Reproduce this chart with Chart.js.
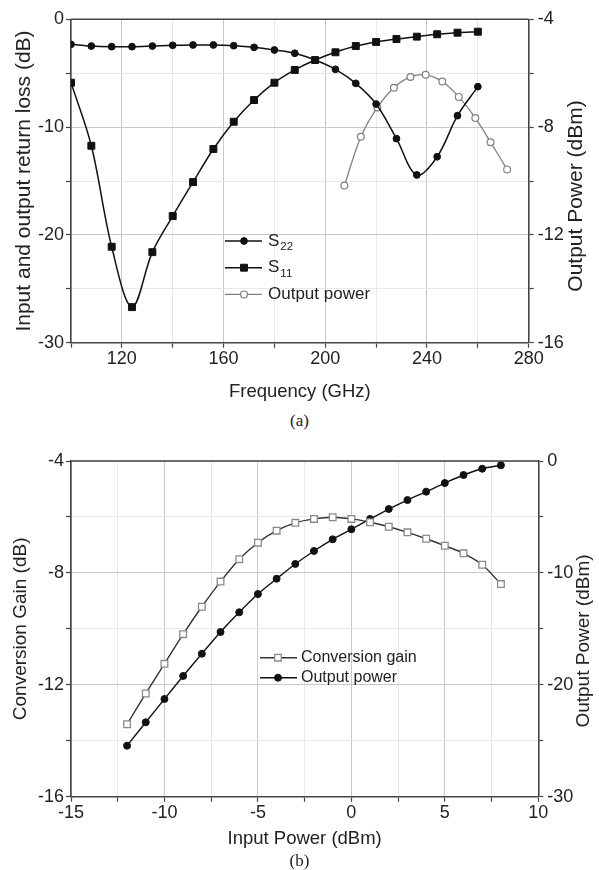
<!DOCTYPE html>
<html>
<head>
<meta charset="utf-8">
<script src="https://cdn.jsdelivr.net/npm/chart.js"></script>
<style>
  html, body { margin:0; padding:0; background:#fff; }
  body { width:599px; height:870px; position:relative; overflow:hidden; }
  .wrap { position:absolute; left:0; }
  .cap { position:absolute; left:0; width:599px; text-align:center; font:17px 'Liberation Serif', 'Times New Roman', serif; color:#222; line-height:20px; }
</style>
</head>
<body>
<div class="wrap" style="top:0;"><canvas id="ca" width="599" height="410"></canvas></div>
<div class="cap" style="top:411px;">(a)</div>
<div class="wrap" style="top:440px;"><canvas id="cb" width="599" height="430"></canvas></div>
<div class="cap" style="top:851px;">(b)</div>
<script>
// ---------- Data: chart (a) ----------
const freqGHz = [100,108,116,124,132,140,148,156,164,172,180,188,196,204,212,220,228,236,244,252,260];
const s22dB   = [-2.32,-2.48,-2.54,-2.54,-2.48,-2.41,-2.38,-2.38,-2.45,-2.6,-2.85,-3.15,-3.78,-4.64,-5.94,-7.86,-11.07,-14.44,-12.75,-8.94,-6.25];
const s11dB   = [-5.88,-11.73,-21.1,-26.7,-21.6,-18.25,-15.1,-12.03,-9.5,-7.49,-5.88,-4.7,-3.78,-3.06,-2.48,-2.1,-1.83,-1.61,-1.39,-1.24,-1.15];
const opFreqGHz = [207.5,214,220.5,227,233.5,239.5,246,252.5,259,265,271.5];
const opPowerA  = [-10.17,-8.36,-7.27,-6.54,-6.14,-6.06,-6.31,-6.88,-7.66,-8.56,-9.57];
const xTicksA = [120,160,200,240,280];
const yTicksA = [0,-10,-20,-30];
const y2TicksA = [-4,-8,-12,-16];

// ---------- Data: chart (b) ----------
const inputPower = [-12,-11,-10,-9,-8,-7,-6,-5,-4,-3,-2,-1,0,1,2,3,4,5,6,7,8];
const convGain   = [-13.41,-12.31,-11.25,-10.19,-9.21,-8.31,-7.51,-6.92,-6.49,-6.21,-6.07,-6.01,-6.07,-6.19,-6.35,-6.55,-6.78,-7.03,-7.30,-7.71,-8.40];
const outPowerB  = [-25.44,-23.35,-21.27,-19.21,-17.22,-15.28,-13.52,-11.89,-10.52,-9.2,-8.04,-7.0,-6.1,-5.18,-4.29,-3.49,-2.74,-1.97,-1.25,-0.69,-0.38];
const xTicksB = [-15,-10,-5,0,5,10];
const yTicksB = [-4,-8,-12,-16];
const y2TicksB = [0,-10,-20,-30];

const FAM = "'Liberation Sans', Arial, Helvetica, sans-serif";
const tickFont = {family: FAM, size: 18};
const TXT = '#222';
const AX = '#444';
const near = (v, arr) => arr.some(t => Math.abs(t - v) < 1e-6);
const pts = (xs, ys) => xs.map((x, i) => ({x, y: ys[i]}));

function axis(opts) {
  const {pos, min, max, step, major, size, grid, title, titlePad, tickPad} = opts;
  return {
    type: 'linear', position: pos, min, max,
    afterFit: (s) => { if (pos === 'bottom') s.height = size; else s.width = size; },
    ticks: {
      stepSize: step, autoSkip: false, maxRotation: 0, font: tickFont, color: TXT, padding: tickPad,
      callback: (v) => near(v, major) ? String(v) : ''
    },
    grid: {
      display: true, drawOnChartArea: grid, tickLength: 5, tickColor: AX, tickWidth: 1.2,
      lineWidth: 1,
      color: (c) => (c.tick && near(c.tick.value, major)) ? '#c9c9c9' : '#e8e8e8'
    },
    border: {display: true, color: AX, width: 1.6},
    title: title ? {display: true, text: title.text, font: {family: FAM, size: title.size}, color: TXT, padding: titlePad} : {display: false}
  };
}

const framePlugin = {
  id: 'frameTop',
  afterDraw(chart) {
    const {ctx, chartArea: a} = chart;
    ctx.save();
    ctx.strokeStyle = AX; ctx.lineWidth = 1.6;
    ctx.beginPath(); ctx.moveTo(a.left, a.top); ctx.lineTo(a.right, a.top); ctx.stroke();
    ctx.restore();
  }
};

function drawMarker(ctx, style, r, x, y) {
  ctx.beginPath();
  if (style === 'rect') {
    const h = r * Math.SQRT1_2;
    ctx.rect(x - h, y - h, 2 * h, 2 * h);
  } else {
    ctx.arc(x, y, r, 0, Math.PI * 2);
  }
  ctx.fill(); ctx.stroke();
}

const legendPlugin = {
  id: 'insideLegend',
  afterDraw(chart, args, o) {
    if (!o || !o.items) return;
    const ctx = chart.ctx;
    ctx.save();
    o.items.forEach((it, i) => {
      const ds = chart.data.datasets[it.index];
      const y = o.y + i * o.gap;
      ctx.strokeStyle = ds.borderColor; ctx.lineWidth = ds.borderWidth;
      ctx.beginPath(); ctx.moveTo(o.x0, y); ctx.lineTo(o.x1, y); ctx.stroke();
      ctx.fillStyle = ds.pointBackgroundColor; ctx.strokeStyle = ds.pointBorderColor; ctx.lineWidth = ds.pointBorderWidth;
      drawMarker(ctx, ds.pointStyle, ds.pointRadius, o.xm, y);
      ctx.fillStyle = TXT; ctx.textBaseline = 'middle'; ctx.textAlign = 'left';
      ctx.font = o.size + 'px ' + FAM;
      ctx.fillText(it.main, o.xt, y);
      if (it.sub) {
        const w = ctx.measureText(it.main).width;
        ctx.font = o.subSize + 'px ' + FAM;
        ctx.fillText(it.sub, o.xt + w + 1, y + o.subShift);
      }
    });
    ctx.restore();
  }
};

const rightTitlePlugin = {
  id: 'rightTitle',
  afterDraw(chart, args, o) {
    if (!o || !o.text) return;
    const ctx = chart.ctx;
    ctx.save();
    ctx.translate(o.x, o.y); ctx.rotate(-Math.PI / 2);
    ctx.font = o.size + 'px ' + FAM; ctx.fillStyle = TXT;
    ctx.textAlign = 'center'; ctx.textBaseline = 'middle';
    ctx.fillText(o.text, 0, 0);
    ctx.restore();
  }
};

// ---------- Chart (a) ----------
new Chart(document.getElementById('ca'), {
  type: 'line',
  data: {
    datasets: [
      {label: 'S22', data: pts(freqGHz, s22dB), yAxisID: 'y', borderColor: '#111', borderWidth: 1.5, tension: 0.35,
       pointStyle: 'circle', pointRadius: 3.4, pointBackgroundColor: '#111', pointBorderColor: '#111', pointBorderWidth: 1},
      {label: 'S11', data: pts(freqGHz, s11dB), yAxisID: 'y', borderColor: '#111', borderWidth: 1.5, tension: 0.35,
       pointStyle: 'rect', pointRadius: 4.9, pointBackgroundColor: '#111', pointBorderColor: '#111', pointBorderWidth: 1},
      {label: 'Output power', data: pts(opFreqGHz, opPowerA), yAxisID: 'y2', borderColor: '#808080', borderWidth: 1.3, tension: 0.35,
       pointStyle: 'circle', pointRadius: 3.4, pointBackgroundColor: '#fff', pointBorderColor: '#808080', pointBorderWidth: 1.2}
    ]
  },
  options: {
    responsive: false, animation: false,
    layout: {padding: {top: 19.3, left: 0, right: 0, bottom: 0}},
    plugins: {
      legend: {display: false}, tooltip: {enabled: false},
      insideLegend: {x0: 225, x1: 262, xm: 244, xt: 268, y: 241, gap: 26.7, size: 17, subSize: 11.5, subShift: 6,
        items: [{index: 0, main: 'S', sub: '22'}, {index: 1, main: 'S', sub: '11'}, {index: 2, main: 'Output power'}]},
      rightTitle: {text: 'Output Power (dBm)', x: 576, y: 196, size: 21}
    },
    scales: {
      x: axis({pos: 'bottom', min: 100, max: 280, step: 20, major: xTicksA, size: 410 - 342.7, grid: true,
               title: {text: 'Frequency (GHz)', size: 18.5}, titlePad: {top: 0, bottom: 7}, tickPad: 1}),
      y: axis({pos: 'left', min: -30, max: 0, step: 5, major: yTicksA, size: 71, grid: true,
               title: {text: 'Input and output return loss (dB)', size: 21}, titlePad: {top: 11.4, bottom: 0}, tickPad: 2}),
      y2: axis({pos: 'right', min: -16, max: -4, step: 2, major: y2TicksA, size: 599 - 528.7, grid: false,
                title: null, tickPad: 4})
    }
  },
  plugins: [framePlugin, legendPlugin, rightTitlePlugin]
});

// ---------- Chart (b) ----------
new Chart(document.getElementById('cb'), {
  type: 'line',
  data: {
    datasets: [
      {label: 'Conversion gain', data: pts(inputPower, convGain), yAxisID: 'y', borderColor: '#333', borderWidth: 1.4, tension: 0.3,
       pointStyle: 'rect', pointRadius: 4.7, pointBackgroundColor: '#fff', pointBorderColor: '#8a8a8a', pointBorderWidth: 1.3},
      {label: 'Output power', data: pts(inputPower, outPowerB), yAxisID: 'y2', borderColor: '#111', borderWidth: 1.4, tension: 0.3,
       pointStyle: 'circle', pointRadius: 3.5, pointBackgroundColor: '#111', pointBorderColor: '#111', pointBorderWidth: 1}
    ]
  },
  options: {
    responsive: false, animation: false,
    layout: {padding: {top: 21, left: 0, right: 0, bottom: 0}},
    plugins: {
      legend: {display: false}, tooltip: {enabled: false},
      insideLegend: {x0: 260, x1: 297, xm: 278, xt: 301, y: 217.7, gap: 20, size: 16, subSize: 11, subShift: 5,
        items: [{index: 0, main: 'Conversion gain'}, {index: 1, main: 'Output power'}]},
      rightTitle: {text: 'Output Power (dBm)', x: 584, y: 201, size: 19}
    },
    scales: {
      x: axis({pos: 'bottom', min: -15, max: 10, step: 2.5, major: xTicksB, size: 430 - 356.7, grid: true,
               title: {text: 'Input Power (dBm)', size: 18.5}, titlePad: {top: 0, bottom: 19.9}, tickPad: 1}),
      y: axis({pos: 'left', min: -16, max: -4, step: 2, major: yTicksB, size: 71, grid: true,
               title: {text: 'Conversion Gain (dB)', size: 19}, titlePad: {top: 9.6, bottom: 0}, tickPad: 2}),
      y2: axis({pos: 'right', min: -30, max: 0, step: 5, major: y2TicksB, size: 599 - 538.3, grid: false,
                title: null, tickPad: 4})
    }
  },
  plugins: [framePlugin, legendPlugin, rightTitlePlugin]
});
</script>
</body>
</html>
